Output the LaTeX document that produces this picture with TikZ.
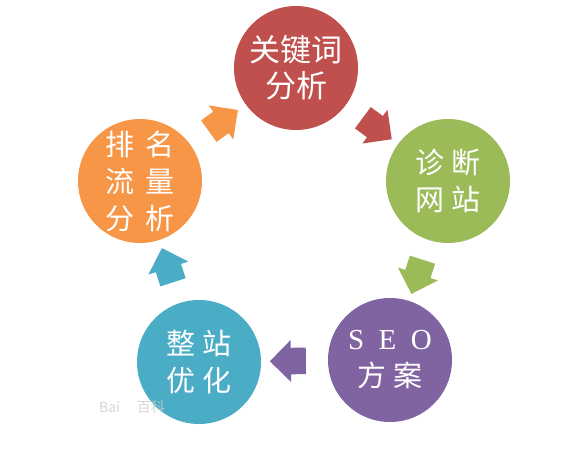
\documentclass[tikz,border=0pt]{standalone}
\usepackage{fontspec}
\newfontfamily\cjk{Noto Sans CJK SC}
\newfontfamily\seofont{Liberation Serif}
\usetikzlibrary{shapes.arrows}
\definecolor{kwred}{HTML}{C0504D}
\definecolor{zdgreen}{HTML}{9BBB59}
\definecolor{seopurple}{HTML}{8064A2}
\definecolor{yhblue}{HTML}{4BACC6}
\definecolor{pmorange}{HTML}{F79646}
\begin{document}
\begin{tikzpicture}[x=1pt,y=-1pt,
    stage/.style={circle,fill=#1,minimum size=124pt,inner sep=0pt,text=white,
        align=center,font=\cjk\fontsize{29}{37}\selectfont},
    flow/.style={single arrow,fill=#1,draw=none,minimum height=36pt,
        minimum width=42pt,inner xsep=0pt,inner ysep=12pt,
        sloped,allow upside down}]
    \useasboundingbox (0,0) rectangle (578,449);
    %% stages
    \node[stage=kwred,font=\cjk\fontsize{31}{36}\selectfont] (kw) at (296,68) {关键词\\分析};
    \node[stage=zdgreen] (zd) at (448,181) {诊 断\\网 站};
    \node[stage=seopurple] (seo) at (390,360) {{\seofont S\hspace{0.5em}E\hspace{0.5em}O}\\方 案};
    \node[stage=yhblue] (yh) at (199,362) {整 站\\优 化};
    \node[stage=pmorange] (pm) at (140,181) {排\hspace{0.4em}名\\流\hspace{0.4em}量\\分\hspace{0.4em}析};
    %% watermark
    \node[text=gray!40,opacity=0.8,font=\cjk\fontsize{14}{14}\selectfont] (wm) at (132,407) {Bai\hspace{1.2em}百科};
    %% flow arrows
    \path (kw) -- node[flow=kwred] (a1) {} (zd);
    \path (zd) -- node[flow=zdgreen] (a2) {} (seo);
    \path (seo) -- node[flow=seopurple] (a3) {} (yh);
    \path (yh) -- node[flow=yhblue] (a4) {} (pm);
    \path (pm) -- node[flow=pmorange] (a5) {} (kw);
\end{tikzpicture}
\end{document}
